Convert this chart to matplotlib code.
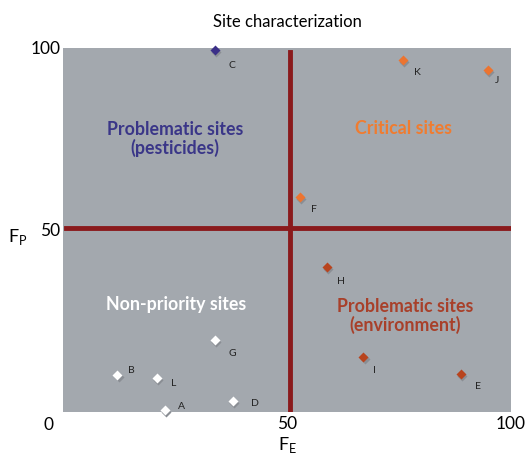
import numpy as np
import matplotlib
matplotlib.use("Agg")
import matplotlib.pyplot as plt

plt.rcParams['font.family'] = ['Lato', 'DejaVu Sans']

# site scores (F_E, F_P)
sites = ["A", "B", "C", "D", "E", "F", "G", "H", "I", "J", "K", "L"]
fe = [22.8, 12.1, 33.9, 37.9, 88.8, 52.9, 33.9, 58.9, 67.0, 94.9, 75.9, 21.0]
fp = [0.5, 10.2, 99.5, 3.0, 10.4, 59.1, 19.8, 39.8, 15.1, 94.0, 96.7, 9.3]
groups = ["non", "non", "pest", "non", "env", "crit", "non", "env", "env", "crit", "crit", "non"]
# label offsets in points
offsets = [(9, 3), (8, 3), (10, -11), (13, -2), (10, -9), (8, -9), (10, -10), (7, -10), (7, -10), (5, -8), (8, -9), (10, -4)]

colors = {"non": "white", "pest": "#3b2f88", "crit": "#ec7430", "env": "#b8441e"}
bg = "#a3a8ae"
line_col = "#8a1a1c"

fig = plt.figure(figsize=(5.31, 4.59), dpi=100)
ax = fig.add_axes([63/531, 1-412/459, 448/531, 364/459])
ax.set_facecolor(bg)
ax.set_xlim(0, 100)
ax.set_ylim(0, 100)
for s in ax.spines.values():
    s.set_visible(False)

ax.axvline(50.7, ymin=0, ymax=0.99, color=line_col, lw=3.5, zorder=1)
ax.axhline(50.5, xmin=0.006, xmax=1, color=line_col, lw=3.5, zorder=1)

for x, y, g, name, off in zip(fe, fp, groups, sites, offsets):
    ax.plot(x + 0.3, y - 0.6, marker="D", ms=4.8, color="#8a8e94", mec="none", zorder=2, clip_on=False)
    ax.plot(x, y, marker="D", ms=4.8, color=colors[g], mec="none", zorder=3, clip_on=False)
    ax.annotate(name, (x, y), xytext=off, textcoords="offset points",
                fontsize=7.5, color="#222222", ha="left", va="center")

qsize = 12.8
ax.text(25, 75, "Problematic sites\n(pesticides)", color="#3a3688", fontsize=qsize,
        fontweight="bold", ha="center", va="center", linespacing=1.05)
ax.text(75.9, 78, "Critical sites", color="#f07c30", fontsize=qsize,
        fontweight="bold", ha="center", va="center")
ax.text(25.2, 29.4, "Non-priority sites", color="white", fontsize=qsize,
        fontweight="bold", ha="center", va="center")
ax.text(76.3, 26.4, "Problematic sites\n(environment)", color="#a8402a", fontsize=qsize,
        fontweight="bold", ha="center", va="center", linespacing=1.05)

ax.set_xticks([50, 100])
ax.set_yticks([50, 100])
ax.tick_params(length=0, labelsize=12.5, pad=3)
ax.tick_params(axis="y", pad=2)
ax.text(-3.3, -1.5, "0", fontsize=12.5, ha="center", va="top", transform=ax.transData)

ax.set_xlabel("F$_\\mathregular{E}$", fontsize=13, labelpad=2)
ax.set_ylabel("F$_\\mathregular{P}$", fontsize=13, rotation=0, labelpad=8, va="center")
ax.yaxis.set_label_coords(-0.1, 0.48)
ax.set_title("Site characterization", fontsize=12, pad=15)

fig.savefig("out.png", dpi=100)
